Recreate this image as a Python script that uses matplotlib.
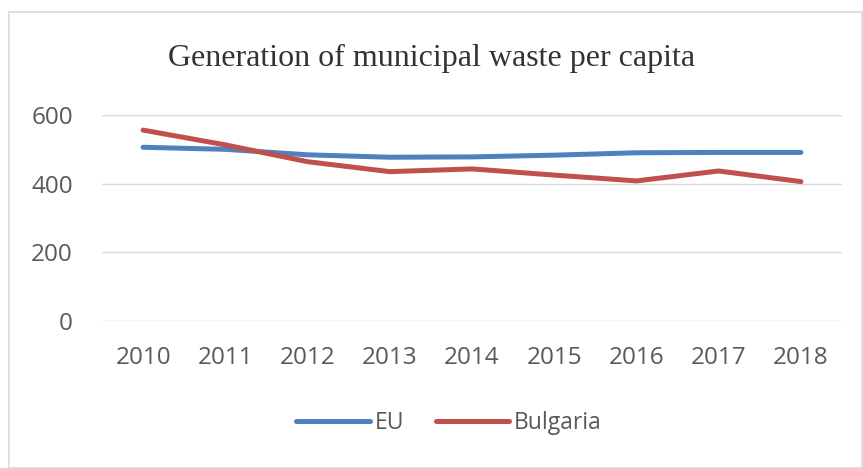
import matplotlib
matplotlib.use("Agg")
import matplotlib.pyplot as plt
from matplotlib.patches import Rectangle

years = ["2010", "2011", "2012", "2013", "2014", "2015", "2016", "2017", "2018"]
eu = [506, 500, 484, 477, 478, 483, 490, 491, 491]
bulgaria = [556, 513, 464, 435, 443, 425, 408, 437, 406]
yticks = [0, 200, 400, 600]

W, H = 863, 468
fig = plt.figure(figsize=(W / 100, H / 100), dpi=100)
fig.patch.set_facecolor("white")

# chart border
fig.add_artist(Rectangle((9 / W, 0), (W - 10) / W, 1 - 12 / H, transform=fig.transFigure,
                         fill=False, edgecolor="#d9d9d9", linewidth=1.2))

ax = fig.add_axes([102 / W, 1 - 321 / H, 740 / W, 206 / H])
x = list(range(len(years)))
l1, = ax.plot(x, eu, color="#4F81BD", linewidth=3.6, solid_capstyle="round", label="EU")
l2, = ax.plot(x, bulgaria, color="#C0504D", linewidth=3.6, solid_capstyle="round", label="Bulgaria")
ax.set_xlim(-0.5, len(years) - 0.5)
ax.set_ylim(0, 600)
ax.set_yticks(yticks)
ax.set_yticklabels([str(v) for v in yticks])
ax.set_xticks(x)
ax.set_xticklabels(years)
for s in ax.spines.values():
    s.set_visible(False)
ax.grid(axis="y", color="#d9d9d9", linewidth=1)
ax.set_axisbelow(True)
ax.tick_params(length=0, labelsize=17.5, colors="#595959")
ax.tick_params(axis="x", pad=18)
ax.tick_params(axis="y", pad=21)
for t in ax.get_yticklabels() + ax.get_xticklabels():
    t.set_fontfamily("Open Sans")

fig.text(432 / W, 1 - 58 / H, "Generation of municipal waste per capita",
         ha="center", va="center", fontsize=23, family="Liberation Serif", color="#333333")

leg = fig.legend(handles=[l1, l2], loc="center", bbox_to_anchor=(449 / W, 1 - 423 / H),
                 ncol=2, frameon=False, handlelength=3.2, columnspacing=1.4, handletextpad=0.2,
                 prop={"family": "Open Sans", "size": 16.5})
for t in leg.get_texts():
    t.set_color("#595959")

fig.savefig("out.png", dpi=100)
